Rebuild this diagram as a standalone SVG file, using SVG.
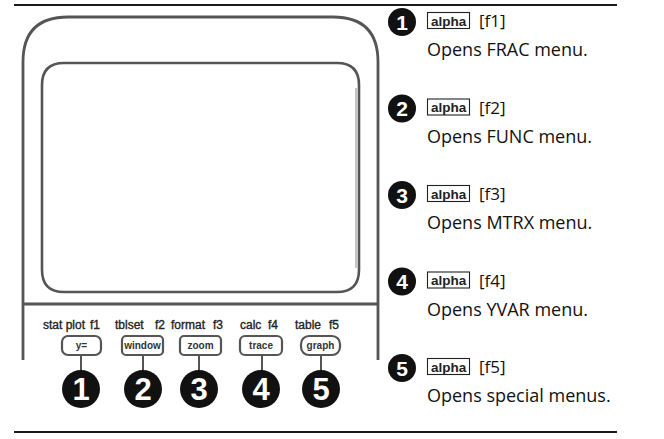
<svg xmlns="http://www.w3.org/2000/svg" width="664" height="439" viewBox="0 0 664 439">
<style>
.rule{stroke:#1a1a1a;stroke-width:2;fill:none}
.body{stroke:#555;stroke-width:2.8;fill:none}
.screen{stroke:#555;stroke-width:2.6;fill:none}
.key{stroke:#555;stroke-width:2.2;fill:#fff}
.lead{stroke:#555;stroke-width:2}
.lbl{font-family:"Liberation Sans",Arial,sans-serif;font-size:12px;fill:#222;stroke:#222;stroke-width:0.35}
.kt{font-family:"Liberation Sans",Arial,sans-serif;font-size:10px;font-weight:bold;fill:#333;text-anchor:middle}
.bn{font-family:"Liberation Sans",Arial,sans-serif;font-size:31px;font-weight:bold;fill:#fff;text-anchor:middle}
.sn{font-family:"Liberation Sans",Arial,sans-serif;font-size:21px;font-weight:bold;fill:#fff;text-anchor:middle}
.ab{fill:#fff;stroke:#222;stroke-width:1.1}
.at{font-family:"Liberation Sans",Arial,sans-serif;font-size:13.5px;font-weight:bold;fill:#222}
.ft{font-family:"Open Sans","Liberation Sans",sans-serif;font-size:17px;fill:#111}
.desc{font-family:"Open Sans","Liberation Sans",sans-serif;font-size:18px;fill:#111}
</style>
<rect width="664" height="439" fill="#fff"/>
<line class="rule" x1="14" y1="5" x2="617" y2="5"/>
<line class="rule" x1="14" y1="432" x2="617" y2="432"/>

<g id="calculator">
<path class="body" d="M23,360 V62 Q23,17 68,17 H333 Q378,17 378,62 V360"/>
<line class="body" x1="23" y1="304" x2="378" y2="304"/>
<path class="screen" d="M42,85 Q42,63 64,63 H337 Q359,63 359,85 V270 Q359,292 337,292 H64 Q42,292 42,270 Z"/>
<line stroke="#888" stroke-width="1" x1="356" y1="88" x2="356" y2="268"/>
</g>

<g id="labels">
<text class="lbl" x="43" y="329">stat plot</text>
<text class="lbl" x="90" y="329">f1</text>
<text class="lbl" x="115" y="329">tblset</text>
<text class="lbl" x="155" y="329">f2</text>
<text class="lbl" x="171" y="329">format</text>
<text class="lbl" x="213" y="329">f3</text>
<text class="lbl" x="240" y="329">calc</text>
<text class="lbl" x="268" y="329">f4</text>
<text class="lbl" x="295" y="329">table</text>
<text class="lbl" x="329" y="329">f5</text>
</g>

<g id="connectors">
<line class="lead" x1="81" y1="355" x2="81" y2="372"/>
<line class="lead" x1="143" y1="355" x2="143" y2="372"/>
<line class="lead" x1="199" y1="355" x2="199" y2="372"/>
<line class="lead" x1="262" y1="355" x2="262" y2="372"/>
<line class="lead" x1="321" y1="355" x2="321" y2="372"/>
</g>

<g id="key1"><rect class="key" x="62" y="336" width="39" height="19" rx="6"/><text class="kt" x="81.5" y="349">y=</text></g>
<g id="key2"><rect class="key" x="122" y="336" width="41" height="19" rx="4"/><text class="kt" x="142.5" y="349">window</text></g>
<g id="key3"><rect class="key" x="180" y="336" width="41" height="19" rx="4"/><text class="kt" x="200.5" y="349">zoom</text></g>
<g id="key4"><rect class="key" x="240" y="336" width="42" height="19" rx="5"/><text class="kt" x="261" y="349">trace</text></g>
<g id="key5"><rect class="key" x="301" y="336" width="39" height="19" rx="8"/><text class="kt" x="320.5" y="349">graph</text></g>

<g id="badge1"><circle cx="81" cy="389" r="19" fill="#111"/><text class="bn" x="81" y="400">1</text></g>
<g id="badge2"><circle cx="143" cy="389" r="19" fill="#111"/><text class="bn" x="143" y="400">2</text></g>
<g id="badge3"><circle cx="199" cy="389" r="19" fill="#111"/><text class="bn" x="199" y="400">3</text></g>
<g id="badge4"><circle cx="261" cy="389" r="19" fill="#111"/><text class="bn" x="261" y="400">4</text></g>
<g id="badge5"><circle cx="321" cy="389" r="19" fill="#111"/><text class="bn" x="321" y="400">5</text></g>

<g id="item1">
<circle cx="402" cy="22" r="14" fill="#111"/><text class="sn" x="402" y="29.5">1</text>
<rect class="ab" x="427.5" y="12.5" width="42" height="16"/><text class="at" x="431" y="25.5">alpha</text>
<text class="ft" x="479" y="27">[f1]</text>
<text class="desc" x="427" y="56">Opens FRAC menu.</text>
</g>
<g id="item2">
<circle cx="402" cy="108.5" r="14" fill="#111"/><text class="sn" x="402" y="116">2</text>
<rect class="ab" x="427.5" y="99" width="42" height="16"/><text class="at" x="431" y="112">alpha</text>
<text class="ft" x="479" y="113.5">[f2]</text>
<text class="desc" x="427" y="142.5">Opens FUNC menu.</text>
</g>
<g id="item3">
<circle cx="402" cy="195" r="14" fill="#111"/><text class="sn" x="402" y="202.5">3</text>
<rect class="ab" x="427.5" y="185.5" width="42" height="16"/><text class="at" x="431" y="198.5">alpha</text>
<text class="ft" x="479" y="200">[f3]</text>
<text class="desc" x="427" y="229">Opens MTRX menu.</text>
</g>
<g id="item4">
<circle cx="402" cy="281.5" r="14" fill="#111"/><text class="sn" x="402" y="289">4</text>
<rect class="ab" x="427.5" y="272" width="42" height="16"/><text class="at" x="431" y="285">alpha</text>
<text class="ft" x="479" y="286.5">[f4]</text>
<text class="desc" x="427" y="315.5">Opens YVAR menu.</text>
</g>
<g id="item5">
<circle cx="402" cy="368" r="14" fill="#111"/><text class="sn" x="402" y="375.5">5</text>
<rect class="ab" x="427.5" y="358.5" width="42" height="16"/><text class="at" x="431" y="371.5">alpha</text>
<text class="ft" x="479" y="373">[f5]</text>
<text class="desc" x="427" y="402">Opens special menus.</text>
</g>
</svg>
